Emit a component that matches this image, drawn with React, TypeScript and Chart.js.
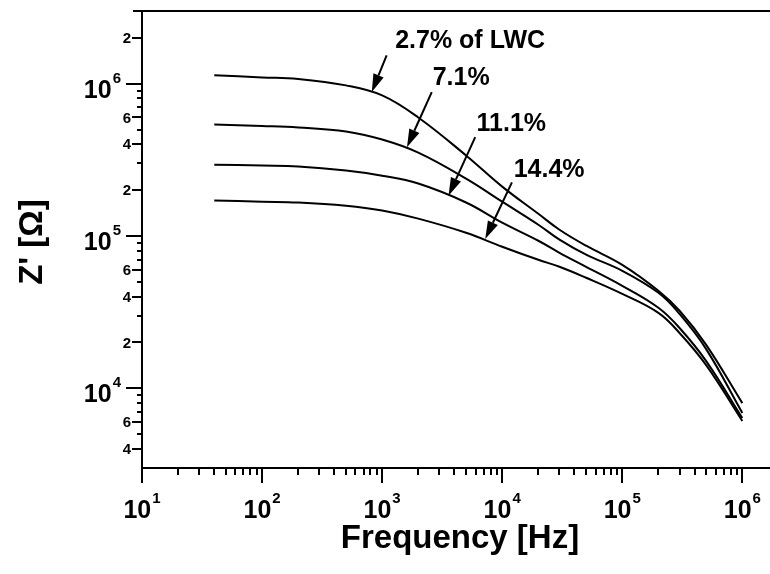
import React, { useEffect, useRef } from "react";
import { Chart, registerables } from "chart.js";

Chart.register(...registerables);

// ---- data ----
const frequencies = [40, 100, 200, 500, 1e3, 2e3, 5e3, 1e4, 2e4, 3e4, 5e4, 1e5, 2e5, 3e5, 5e5, 1e6];
const z_2_7 = [1.134e6, 1.1e6, 1.075e6, 9.75e5, 8.38e5, 6.0e5, 3.38e5, 2.11e5, 1.4e5, 1.1e5, 8.64e4, 6.47e4, 4.37e4, 3.23e4, 1.93e4, 8.0e3];
const z_7_1 = [5.4e5, 5.28e5, 5.16e5, 4.86e5, 4.3e5, 3.53e5, 2.38e5, 1.68e5, 1.186e5, 9.46e4, 7.54e4, 5.91e4, 4.24e4, 3.08e4, 1.81e4, 6.89e3];
const z_11_1 = [2.94e5, 2.9e5, 2.86e5, 2.69e5, 2.49e5, 2.21e5, 1.66e5, 1.224e5, 9.31e4, 7.76e4, 6.28e4, 4.71e4, 3.38e4, 2.49e4, 1.51e4, 6.38e3];
const z_14_4 = [1.71e5, 1.68e5, 1.66e5, 1.58e5, 1.47e5, 1.3e5, 1.05e5, 8.51e4, 6.98e4, 6.28e4, 5.32e4, 4.17e4, 3.13e4, 2.31e4, 1.42e4, 6.1e3];
const seriesNames = ["2.7% of LWC", "7.1%", "11.1%", "14.4%"];
const seriesValues = [z_2_7, z_7_1, z_11_1, z_14_4];

// axis ranges and tick labels
const xMin = 10;
const xMax = 1.7e6;
const yMin = 3e3;
const yMax = 3e6;
const xTickDecades = [1, 2, 3, 4, 5, 6];
const yLabelValues = [2e6, 1e6, 6e5, 4e5, 2e5, 1e5, 6e4, 4e4, 2e4, 1e4, 6e3, 4e3];
const xTitle = "Frequency [Hz]";
const yTitle = "Z' [Ω]";

// annotation anchors in data space: label center, arrow tail, arrow tip
const labelFreq = [5.41e3, 4.55e3, 1.19e4, 2.46e4];
const labelZ = [1.93e6, 1.1e6, 5.48e5, 2.73e5];
const tailFreq = [1.09e3, 2.59e3, 5.96e3, 1.205e4];
const tailZ = [1.535e6, 8.81e5, 4.46e5, 2.25e5];
const tipFreq = [820, 1.61e3, 3.57e3, 7.22e3];
const tipZ = [8.81e5, 3.83e5, 1.84e5, 9.55e4];

const FONT = "'Liberation Sans', Arial, Helvetica, sans-serif";

function drawPower(ctx: CanvasRenderingContext2D, exp: number, x: number, y: number, mode: "right" | "center") {
  const baseFont = `bold 25px ${FONT}`;
  const expFont = `bold 15px ${FONT}`;
  ctx.font = baseFont;
  const wb = ctx.measureText("10").width;
  ctx.font = expFont;
  const we = ctx.measureText(String(exp)).width;
  const gap = 1;
  const total = wb + gap + we;
  const startX = mode === "right" ? x - total : x - total / 2;
  ctx.textAlign = "left";
  ctx.textBaseline = "alphabetic";
  ctx.font = baseFont;
  ctx.fillText("10", startX, y);
  ctx.font = expFont;
  ctx.fillText(String(exp), startX + wb + gap, y - 15);
}

const decorPlugin = {
  id: "decor",
  afterDraw(chart: any) {
    const { ctx, chartArea } = chart;
    const { left, right, top, bottom } = chartArea;
    const xs = chart.scales.x;
    const ys = chart.scales.y;
    ctx.save();
    ctx.strokeStyle = "#000";
    ctx.fillStyle = "#000";
    ctx.lineWidth = 2;
    ctx.lineCap = "butt";

    // frame lines
    ctx.beginPath();
    ctx.moveTo(left - 9, top);
    ctx.lineTo(right, top);
    ctx.moveTo(left, top - 1);
    ctx.lineTo(left, bottom + 1);
    ctx.moveTo(left - 1, bottom);
    ctx.lineTo(right, bottom);
    ctx.stroke();

    // y ticks
    ctx.beginPath();
    for (let d = 3; d <= 6; d++) {
      for (let m = 1; m <= 9; m++) {
        const v = m * Math.pow(10, d);
        if (v <= yMin || v >= yMax) continue;
        const py = Math.round(ys.getPixelForValue(v));
        const len = m === 1 ? 16 : m === 2 || m === 4 || m === 6 ? 10 : 5;
        ctx.moveTo(left - len, py);
        ctx.lineTo(left, py);
      }
    }
    // x ticks
    for (let d = 1; d <= 6; d++) {
      for (let m = 1; m <= 9; m++) {
        const v = m * Math.pow(10, d);
        if (v > xMax) continue;
        const px = Math.round(xs.getPixelForValue(v));
        const len = m === 1 ? 15 : 7;
        ctx.moveTo(px, bottom);
        ctx.lineTo(px, bottom + len);
      }
    }
    ctx.stroke();

    // y labels
    for (const v of yLabelValues) {
      const py = ys.getPixelForValue(v);
      const lg = Math.log10(v);
      if (Math.abs(lg - Math.round(lg)) < 1e-9) {
        drawPower(ctx, Math.round(lg), left - 21, py + 14, "right");
      } else {
        const mant = Math.round(v / Math.pow(10, Math.floor(lg + 1e-9)));
        ctx.font = `bold 15px ${FONT}`;
        ctx.textAlign = "right";
        ctx.textBaseline = "middle";
        ctx.fillText(String(mant), left - 11, py + 1);
      }
    }
    // x labels
    for (const d of xTickDecades) {
      const px = xs.getPixelForValue(Math.pow(10, d));
      drawPower(ctx, d, px, bottom + 50, "center");
    }

    // titles
    ctx.font = `bold 33px ${FONT}`;
    ctx.textAlign = "center";
    ctx.textBaseline = "alphabetic";
    ctx.fillText(xTitle, 460, bottom + 80);
    ctx.save();
    ctx.translate(42, 242);
    ctx.rotate(-Math.PI / 2);
    ctx.fillText(yTitle, 0, 0);
    ctx.restore();

    // annotations
    for (let i = 0; i < seriesNames.length; i++) {
      const lx = xs.getPixelForValue(labelFreq[i]);
      const ly = ys.getPixelForValue(labelZ[i]);
      ctx.font = `bold 25px ${FONT}`;
      ctx.textAlign = "center";
      ctx.textBaseline = "middle";
      ctx.fillText(seriesNames[i], lx, ly + 1);

      const tx = xs.getPixelForValue(tailFreq[i]);
      const ty = ys.getPixelForValue(tailZ[i]);
      const hx = xs.getPixelForValue(tipFreq[i]);
      const hy = ys.getPixelForValue(tipZ[i]);
      const ang = Math.atan2(hy - ty, hx - tx);
      const headLen = 18;
      const headHalf = 5.5;
      const bx = hx - headLen * Math.cos(ang);
      const by = hy - headLen * Math.sin(ang);
      ctx.lineWidth = 2;
      ctx.beginPath();
      ctx.moveTo(tx, ty);
      ctx.lineTo(bx, by);
      ctx.stroke();
      ctx.beginPath();
      ctx.moveTo(hx, hy);
      ctx.lineTo(bx + headHalf * Math.sin(ang), by - headHalf * Math.cos(ang));
      ctx.lineTo(bx - headHalf * Math.sin(ang), by + headHalf * Math.cos(ang));
      ctx.closePath();
      ctx.fill();
    }
    ctx.restore();
  },
};

export default function App() {
  const ref = useRef<HTMLCanvasElement | null>(null);
  useEffect(() => {
    if (!ref.current) return;
    const chart = new Chart(ref.current, {
      type: "line",
      data: {
        datasets: seriesValues.map((vals, i) => ({
          label: seriesNames[i],
          data: frequencies.map((f, j) => ({ x: f, y: vals[j] })),
          borderColor: "#000",
          borderWidth: 2,
          pointRadius: 0,
          fill: false,
          tension: 0.4,
        })),
      },
      options: {
        responsive: false,
        animation: false,
        layout: { padding: { left: 142, right: 0, top: 11, bottom: 106 } },
        scales: {
          x: { type: "logarithmic", min: xMin, max: xMax, display: false },
          y: { type: "logarithmic", min: yMin, max: yMax, display: false },
        },
        plugins: { legend: { display: false }, tooltip: { enabled: false } },
      },
      plugins: [decorPlugin],
    });
    return () => chart.destroy();
  }, []);
  return (
    <div style={{ position: "fixed", left: 0, top: 0, width: 770, height: 574, background: "#fff" }}>
      <canvas ref={ref} width={770} height={574} style={{ display: "block" }} />
    </div>
  );
}
